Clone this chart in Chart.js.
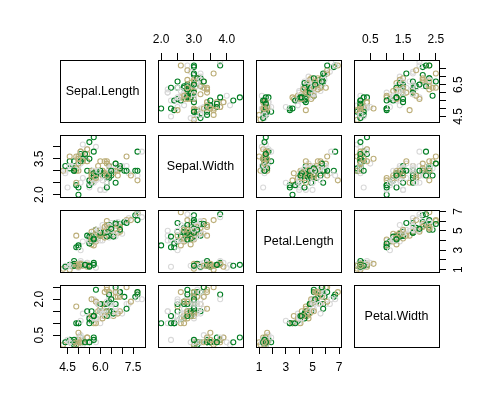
<!DOCTYPE html>
<html><head><meta charset="utf-8">
<script src="https://cdn.jsdelivr.net/npm/chart.js@4/dist/chart.umd.min.js"></script>
<style>
html,body{margin:0;padding:0;background:#fff;}
#wrap{position:relative;width:500px;height:409px;overflow:hidden;background:#fff;}
#wrap canvas{position:absolute;}
</style></head><body><div id="wrap"></div>
<script>
const varNames = ['Sepal.Length','Sepal.Width','Petal.Length','Petal.Width'];

const sepalLength = [
5.1,4.9,4.7,4.6,5.0,5.4,4.6,5.0,4.4,4.9,5.4,4.8,4.8,4.3,5.8,5.7,5.4,5.1,5.7,5.1,
5.4,5.1,4.6,5.1,4.8,5.0,5.0,5.2,5.2,4.7,4.8,5.4,5.2,5.5,4.9,5.0,5.5,4.9,4.4,5.1,
5.0,4.5,4.4,5.0,5.1,4.8,5.1,4.6,5.3,5.0,7.0,6.4,6.9,5.5,6.5,5.7,6.3,4.9,6.6,5.2,
5.0,5.9,6.0,6.1,5.6,6.7,5.6,5.8,6.2,5.6,5.9,6.1,6.3,6.1,6.4,6.6,6.8,6.7,6.0,5.7,
5.5,5.5,5.8,6.0,5.4,6.0,6.7,6.3,5.6,5.5,5.5,6.1,5.8,5.0,5.6,5.7,5.7,6.2,5.1,5.7,
6.3,5.8,7.1,6.3,6.5,7.6,4.9,7.3,6.7,7.2,6.5,6.4,6.8,5.7,5.8,6.4,6.5,7.7,7.7,6.0,
6.9,5.6,7.7,6.3,6.7,7.2,6.2,6.1,6.4,7.2,7.4,7.9,6.4,6.3,6.1,7.7,6.3,6.4,6.0,6.9,
6.7,6.9,5.8,6.8,6.7,6.7,6.3,6.5,6.2,5.9];
const sepalWidth = [
3.5,3.0,3.2,3.1,3.6,3.9,3.4,3.4,2.9,3.1,3.7,3.4,3.0,3.0,4.0,4.4,3.9,3.5,3.8,3.8,
3.4,3.7,3.6,3.3,3.4,3.0,3.4,3.5,3.4,3.2,3.1,3.4,4.1,4.2,3.1,3.2,3.5,3.6,3.0,3.4,
3.5,2.3,3.2,3.5,3.8,3.0,3.8,3.2,3.7,3.3,3.2,3.2,3.1,2.3,2.8,2.8,3.3,2.4,2.9,2.7,
2.0,3.0,2.2,2.9,2.9,3.1,3.0,2.7,2.2,2.5,3.2,2.8,2.5,2.8,2.9,3.0,2.8,3.0,2.9,2.6,
2.4,2.4,2.7,2.7,3.0,3.4,3.1,2.3,3.0,2.5,2.6,3.0,2.6,2.3,2.7,3.0,2.9,2.9,2.5,2.8,
3.3,2.7,3.0,2.9,3.0,3.0,2.5,2.9,2.5,3.6,3.2,2.7,3.0,2.5,2.8,3.2,3.0,3.8,2.6,2.2,
3.2,2.8,2.8,2.7,3.3,3.2,2.8,3.0,2.8,3.0,2.8,3.8,2.8,2.8,2.6,3.0,3.4,3.1,3.0,3.1,
3.1,3.1,2.7,3.2,3.3,3.0,2.5,3.0,3.4,3.0];
const petalLength = [
1.4,1.4,1.3,1.5,1.4,1.7,1.4,1.5,1.4,1.5,1.5,1.6,1.4,1.1,1.2,1.5,1.3,1.4,1.7,1.5,
1.7,1.5,1.0,1.7,1.9,1.6,1.6,1.5,1.4,1.6,1.6,1.5,1.5,1.4,1.5,1.2,1.3,1.4,1.3,1.5,
1.3,1.3,1.3,1.6,1.9,1.4,1.6,1.4,1.5,1.4,4.7,4.5,4.9,4.0,4.6,4.5,4.7,3.3,4.6,3.9,
3.5,4.2,4.0,4.7,3.6,4.4,4.5,4.1,4.5,3.9,4.8,4.0,4.9,4.7,4.3,4.4,4.8,5.0,4.5,3.5,
3.8,3.7,3.9,5.1,4.5,4.5,4.7,4.4,4.1,4.0,4.4,4.6,4.0,3.3,4.2,4.2,4.2,4.3,3.0,4.1,
6.0,5.1,5.9,5.6,5.8,6.6,4.5,6.3,5.8,6.1,5.1,5.3,5.5,5.0,5.1,5.3,5.5,6.7,6.9,5.0,
5.7,4.9,6.7,4.9,5.7,6.0,4.8,4.9,5.6,5.8,6.1,6.4,5.6,5.1,5.6,6.1,5.6,5.5,4.8,5.4,
5.6,5.1,5.1,5.9,5.7,5.2,5.0,5.2,5.4,5.1];
const petalWidth = [
0.2,0.2,0.2,0.2,0.2,0.4,0.3,0.2,0.2,0.1,0.2,0.2,0.1,0.1,0.2,0.4,0.4,0.3,0.3,0.3,
0.2,0.4,0.2,0.5,0.2,0.2,0.4,0.2,0.2,0.2,0.2,0.4,0.1,0.2,0.2,0.2,0.2,0.1,0.2,0.2,
0.3,0.3,0.2,0.6,0.4,0.3,0.2,0.2,0.2,0.2,1.4,1.5,1.5,1.3,1.5,1.3,1.6,1.0,1.3,1.4,
1.0,1.5,1.0,1.4,1.3,1.4,1.5,1.0,1.5,1.1,1.8,1.3,1.5,1.2,1.3,1.4,1.4,1.7,1.5,1.0,
1.1,1.0,1.2,1.6,1.5,1.6,1.5,1.3,1.3,1.3,1.2,1.4,1.2,1.0,1.3,1.2,1.3,1.3,1.1,1.3,
2.5,1.9,2.1,1.8,2.2,2.1,1.7,1.8,1.8,2.5,2.0,1.9,2.1,2.0,2.4,2.3,1.8,2.2,2.3,1.5,
2.3,2.0,2.0,1.8,2.1,1.8,1.8,1.8,2.1,1.6,1.9,2.0,2.2,1.5,1.4,2.3,2.4,1.8,1.8,2.1,
2.4,2.3,1.9,2.3,2.5,2.3,1.9,2.0,2.3,1.8];

// colours recycled over the points (R col = c(...))
const pointColors = ['#007d22', '#bcae78', '#d9d9d9'];

// axis ticks and the tick labels that R prints
const sepalLengthTicks = [4.5,5.0,5.5,6.0,6.5,7.0,7.5];
const sepalWidthTicks  = [2.0,2.5,3.0,3.5,4.0];
const petalLengthTicks = [1,2,3,4,5,6,7];
const petalWidthTicks  = [0.5,1.0,1.5,2.0,2.5];
const sepalLengthLabelsX = [4.5,6.0,7.5];
const sepalLengthLabelsY = [4.5,6.5];
const sepalWidthLabelsX  = [2.0,3.0,4.0];
const sepalWidthLabelsY  = [2.0,3.5];
const petalLengthLabelsX = [1,3,5,7];
const petalLengthLabelsY = [1,3,5,7];
const petalWidthLabelsX  = [0.5,1.5,2.5];
const petalWidthLabelsY  = [0.5,2.0];

const series = [sepalLength, sepalWidth, petalLength, petalWidth];
const ticksFor = [sepalLengthTicks, sepalWidthTicks, petalLengthTicks, petalWidthTicks];
const labelsX = [sepalLengthLabelsX, sepalWidthLabelsX, petalLengthLabelsX, petalWidthLabelsX];
const labelsY = [sepalLengthLabelsY, sepalWidthLabelsY, petalLengthLabelsY, petalWidthLabelsY];
const decimals = [1,1,0,1];

// layout
const M = 40, PX0 = 60, PY0 = 60, PW = 85, PH = 62, SX = 98, SY = 75;
const FONT = 'Arial, "Liberation Sans", sans-serif';

function range(arr){
  const lo = Math.min(...arr), hi = Math.max(...arr), d = hi - lo;
  return [lo - 0.04*d, hi + 0.04*d];
}
const fmt = (k, v) => Number(v).toFixed(decimals[k]);

const boxPlugin = {
  id: 'box',
  afterDraw(chart, args, opts) {
    const {ctx, chartArea: a} = chart;
    ctx.save();
    ctx.strokeStyle = '#000'; ctx.lineWidth = 1;
    ctx.strokeRect(Math.round(a.left)+0.5, Math.round(a.top)+0.5,
                   Math.round(a.right-a.left), Math.round(a.bottom-a.top));
    ctx.fillStyle = '#000';
    if (opts.text) {
      ctx.font = '12.5px ' + FONT;
      ctx.textAlign = 'center'; ctx.textBaseline = 'middle';
      ctx.fillText(opts.text, (a.left+a.right)/2, (a.top+a.bottom)/2 + 0.5);
    }
    if (opts.yLabels) {
      const s = chart.scales.y;
      ctx.font = '12px ' + FONT;
      ctx.textAlign = 'center'; ctx.textBaseline = 'middle';
      const x = opts.ySide === 'left' ? a.left - 20 : a.right + 20;
      opts.yLabels.forEach(v => {
        const y = s.getPixelForValue(v);
        ctx.save(); ctx.translate(x, y); ctx.rotate(-Math.PI/2);
        ctx.fillText(fmt(opts.yVar, v), 0, 0);
        ctx.restore();
      });
    }
    ctx.restore();
  }
};

const wrap = document.getElementById('wrap');
for (let i = 0; i < 4; i++) {
  for (let j = 0; j < 4; j++) {
    const cv = document.createElement('canvas');
    cv.width = PW + 2*M; cv.height = PH + 2*M;
    cv.style.left = (PX0 + j*SX - M) + 'px';
    cv.style.top = (PY0 + i*SY - M) + 'px';
    cv.style.width = cv.width + 'px'; cv.style.height = cv.height + 'px';
    wrap.appendChild(cv);

    const diag = i === j;
    const xSide = (i === 0 && j % 2 === 1) ? 'top' : (i === 3 && j % 2 === 0) ? 'bottom' : null;
    const ySide = (j === 0 && i % 2 === 1) ? 'left' : (j === 3 && i % 2 === 0) ? 'right' : null;
    const [xmin, xmax] = range(series[j]);
    const [ymin, ymax] = range(series[i]);

    const pts = diag ? [] : series[j].map((v, k) => ({x: v, y: series[i][k]}));
    const cols = series[j].map((v, k) => pointColors[k % 3]);

    new Chart(cv, {
      type: 'scatter',
      data: { datasets: [{
        data: pts,
        pointStyle: 'circle',
        pointRadius: 2.5,
        pointBorderWidth: 1.1,
        pointBackgroundColor: 'rgba(0,0,0,0)',
        pointBorderColor: cols,
        pointHoverRadius: 2.5
      }]},
      options: {
        responsive: false, animation: false, devicePixelRatio: 1,
        events: [],
        layout: { padding: {
          left: ySide === 'left' ? 0 : M, right: ySide === 'right' ? 0 : M,
          top: xSide === 'top' ? 0 : M, bottom: xSide === 'bottom' ? 0 : M } },
        plugins: {
          legend: {display: false}, tooltip: {enabled: false},
          box: { text: diag ? varNames[i] : null,
                 yLabels: ySide ? labelsY[i] : null, ySide: ySide, yVar: i }
        },
        scales: {
          x: {
            type: 'linear', display: !!xSide, position: xSide || 'bottom',
            min: xmin, max: xmax,
            afterBuildTicks: s => { s.ticks = ticksFor[j].map(v => ({value: v})); },
            afterFit: s => { s.height = xSide ? M : 0; },
            grid: {display: true, drawOnChartArea: false, drawTicks: true, tickLength: 7, color: '#000', lineWidth: 1},
            border: {display: false},
            ticks: {autoSkip: false, maxRotation: 0, minRotation: 0, padding: 6, color: '#000',
              font: {family: FONT, size: 12},
              callback: (v) => labelsX[j].includes(v) ? fmt(j, v) : ''}
          },
          y: {
            type: 'linear', display: !!ySide, position: ySide || 'left',
            min: ymin, max: ymax,
            afterBuildTicks: s => { s.ticks = ticksFor[i].map(v => ({value: v})); },
            afterFit: s => { s.width = ySide ? M : 0; },
            grid: {display: true, drawOnChartArea: false, drawTicks: true, tickLength: 7, color: '#000', lineWidth: 1},
            border: {display: false},
            ticks: {display: false}
          }
        }
      },
      plugins: [boxPlugin]
    });
  }
}
</script>
</body></html>
